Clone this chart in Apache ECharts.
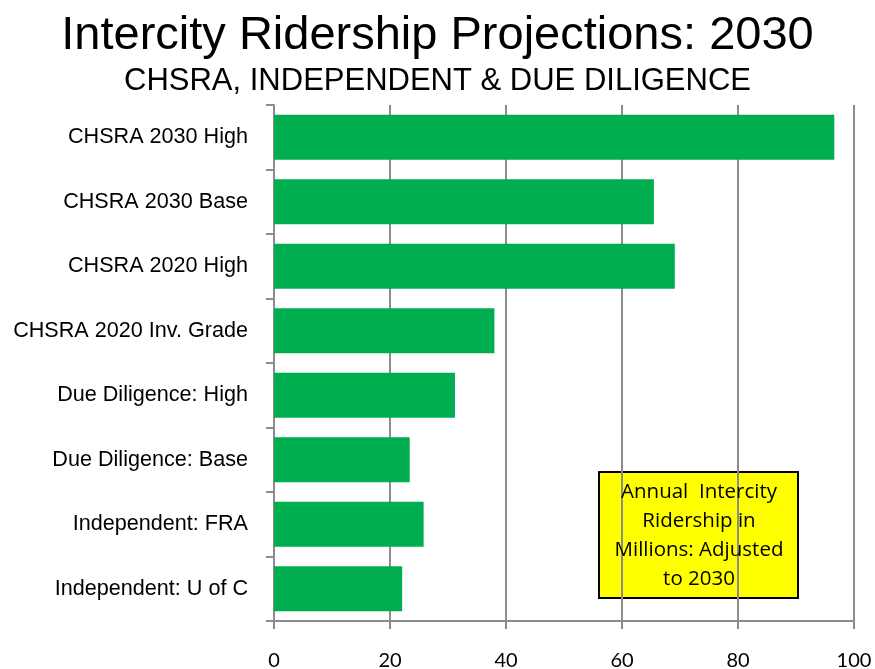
<!DOCTYPE html>
<html>
<head>
<meta charset="utf-8">
<script src="https://cdn.jsdelivr.net/npm/echarts@6/dist/echarts.min.js"></script>
<style>
  html, body { margin: 0; padding: 0; background: #fff; }
  #main { width: 875px; height: 669px; }
</style>
</head>
<body>
<div id="main"></div>
<script>
// data (millions of riders, adjusted to 2030)
const categories = [
  'CHSRA 2030 High',
  'CHSRA 2030 Base',
  'CHSRA 2020 High',
  'CHSRA 2020 Inv. Grade',
  'Due Diligence: High',
  'Due Diligence: Base',
  'Independent: FRA',
  'Independent: U of C'
];
const ridership = [96.6, 65.5, 69.1, 38.0, 31.2, 23.4, 25.8, 22.1];
const xTicks = [0, 20, 40, 60, 80, 100];

const sans = '"Liberation Sans", Arial, sans-serif';
const calibriLike = '"Open Sans", Lato, sans-serif';

const chart = echarts.init(document.getElementById('main'));
const option = {
  animation: false,
  backgroundColor: '#fff',
  title: [
    {
      text: 'Intercity Ridership Projections: 2030',
      left: 'center',
      top: 8,
      textStyle: { fontFamily: sans, fontSize: 47, fontWeight: 'normal', color: '#000' }
    },
    {
      text: 'CHSRA, INDEPENDENT & DUE DILIGENCE',
      left: 'center',
      top: 61,
      textStyle: { fontFamily: sans, fontSize: 31, fontWeight: 'normal', color: '#000' }
    }
  ],
  grid: { left: 274, right: 21, top: 105, bottom: 48, outerBoundsMode: 'none', containLabel: false },
  xAxis: {
    type: 'value',
    min: xTicks[0],
    max: xTicks[xTicks.length - 1],
    interval: 20,
    axisLine: { show: true, lineStyle: { color: '#8c8c8c', width: 2 } },
    axisTick: { show: true, length: 8, lineStyle: { color: '#8c8c8c', width: 2 } },
    splitLine: { show: true, lineStyle: { color: '#8c8c8c', width: 2 } },
    axisLabel: { color: '#000', fontSize: 20, fontFamily: 'Lato, "Open Sans", sans-serif', margin: 30 }
  },
  yAxis: {
    type: 'category',
    inverse: true,
    data: categories,
    axisLine: { show: true, lineStyle: { color: '#8c8c8c', width: 2 } },
    axisTick: { show: true, length: 8, alignWithLabel: false, lineStyle: { color: '#8c8c8c', width: 2 } },
    axisLabel: { color: '#000', fontSize: 21.6, fontFamily: sans, margin: 26 }
  },
  series: [
    {
      type: 'bar',
      data: ridership,
      barCategoryGap: '30%',
      itemStyle: { color: '#00ae50' }
    }
  ],
  graphic: [
    {
      type: 'group',
      left: 598,
      top: 471,
      z: 10,
      children: [
        {
          type: 'rect',
          shape: { x: 0, y: 0, width: 199, height: 126 },
          style: { fill: '#ffff00', stroke: '#000', lineWidth: 2 }
        },
        {
          type: 'text',
          x: 100,
          y: 64,
          z2: 5,
          style: {
            text: 'Annual  Intercity\nRidership in\nMillions: Adjusted\nto 2030',
            align: 'center',
            verticalAlign: 'middle',
            fill: '#000',
            font: '20.5px ' + calibriLike,
            lineHeight: 29
          }
        }
      ]
    }
  ]
};
chart.setOption(option);
</script>
</body>
</html>
